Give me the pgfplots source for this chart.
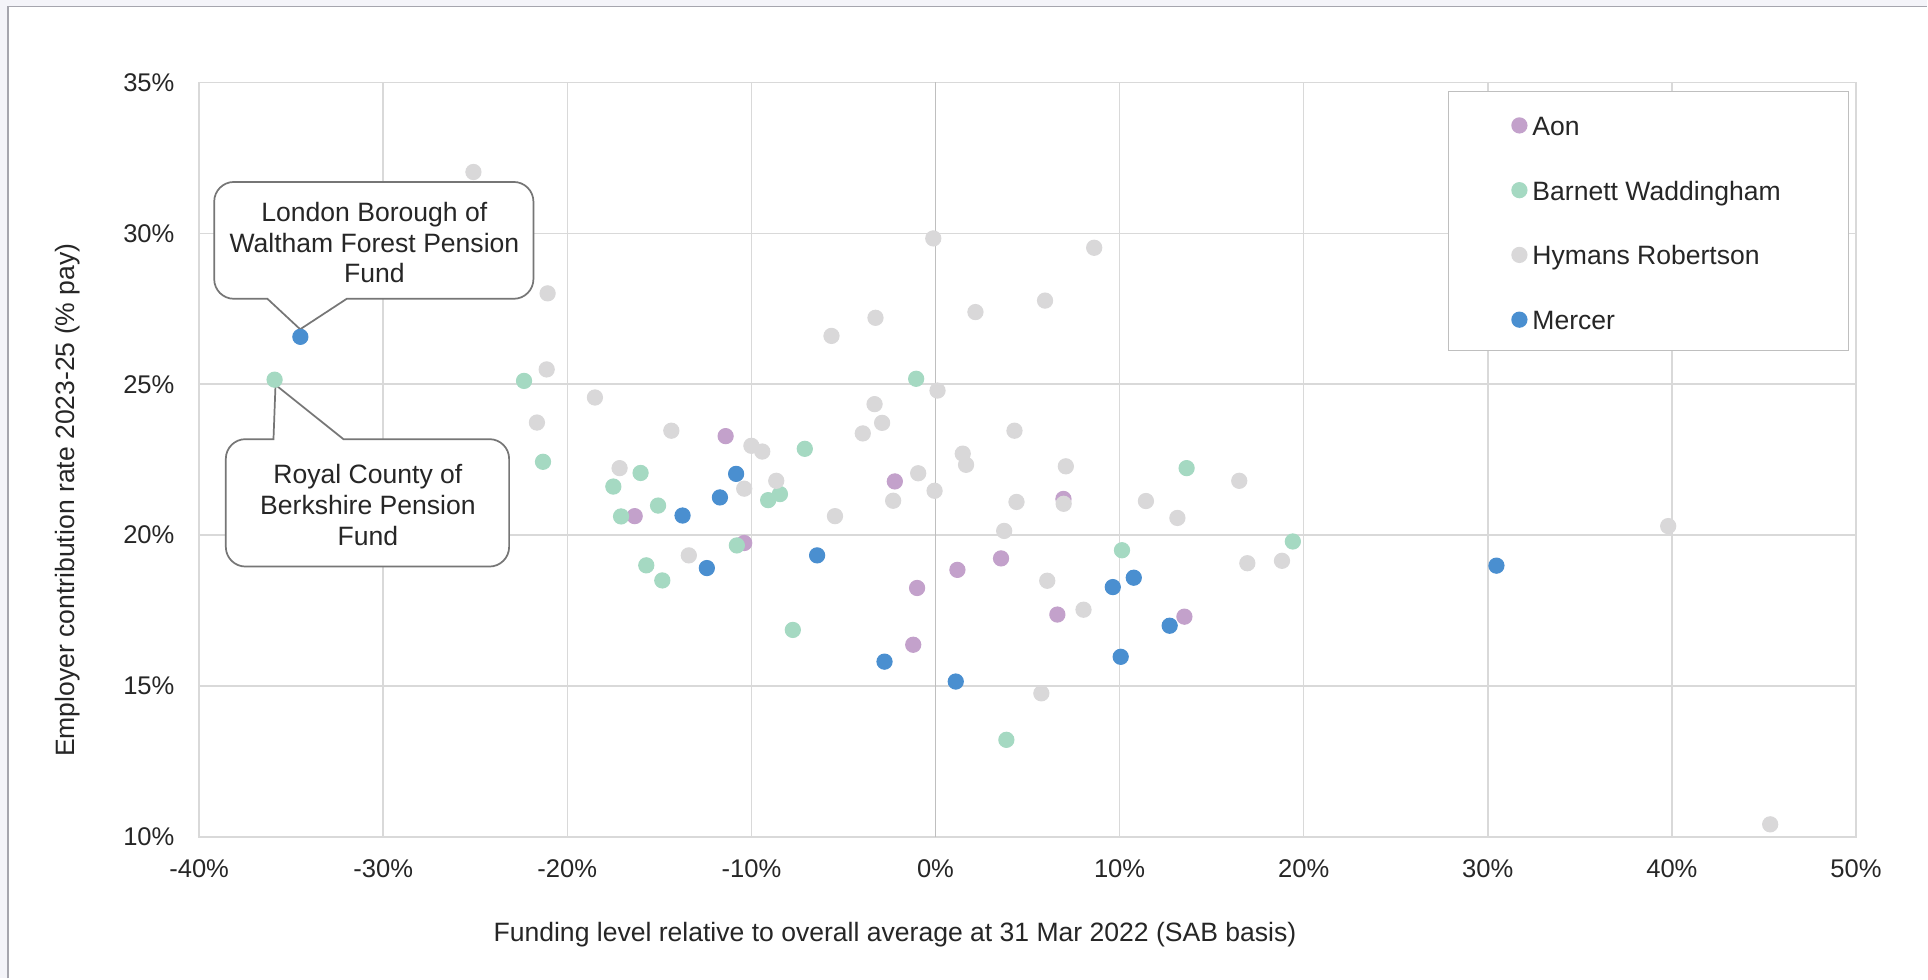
\documentclass[border=0pt]{standalone}
\usepackage{pgfplots}
\pgfplotsset{compat=1.18}
\usepackage{fontspec}
\setmainfont{Liberation Sans}

\definecolor{aon}{HTML}{C3A1CB}
\definecolor{bw}{HTML}{A5D9C2}
\definecolor{hr}{HTML}{D9D8D9}
\definecolor{mercer}{HTML}{4A8FD0}
\definecolor{gridc}{HTML}{D9D9D9}
\definecolor{zeroc}{HTML}{BFBFBF}
\definecolor{txt}{HTML}{262626}
\definecolor{callout}{HTML}{767676}
\definecolor{outerbg}{HTML}{F4F4F9}
\definecolor{framec}{HTML}{A6A6AE}

% scatter dot style, one colour per actuary
\pgfplotsset{dot/.style={only marks, mark=*, mark size=3.1pt,
    mark options={draw=none, fill=#1}, color=#1,
    legend image code/.code={\fill[#1] (0pt,-0.6pt) circle[radius=3pt];}}}
\newcommand{\ls}{\rule[-3pt]{0pt}{13.74pt}}

\begin{document}
\begin{tikzpicture}
% page background and outer frame
\fill[outerbg] (-81pt,-57.5pt) rectangle (703pt,340.5pt);
\fill[white] (-77.95pt,-57.5pt) rectangle (703pt,338.05pt);
\draw[framec, line width=0.6pt] (-77.65pt,-57.5pt) -- (-77.65pt,337.75pt) -- (703pt,337.75pt);

\begin{axis}[
    scale only axis,
    width=674pt, height=307pt,
    xmin=-40, xmax=50, ymin=10, ymax=35,
    xtick={-40,-30,...,50}, ytick={10,15,...,35},
    xticklabels={-40\%,-30\%,-20\%,-10\%,0\%,10\%,20\%,30\%,40\%,50\%},
    yticklabels={10\%,15\%,20\%,25\%,30\%,35\%},
    major tick length=0pt,
    grid=major, grid style={gridc, line width=0.6pt},
    axis line style={gridc, line width=0.6pt},
    extra x ticks={0}, extra x tick labels={},
    extra x tick style={grid style={zeroc, line width=0.6pt}},
    tick label style={font=\fontsize{10.4}{12}\selectfont, text=txt},
    xticklabel style={yshift=-5.8pt},
    yticklabel style={xshift=-6.5pt},
    xlabel={Funding level relative to overall average at 31 Mar 2022 (SAB basis)},
    ylabel={Employer contribution rate 2023-25 (\% pay)},
    label style={font=\fontsize{10.8}{13}\selectfont, text=txt},
    xlabel style={at={(axis description cs:0.420,-0.1287)}, anchor=center},
    ylabel style={at={(axis description cs:-0.0794,0.4464)}, anchor=center},
    legend style={at={(axis description cs:0.7537,0.9886)}, anchor=north west,
        draw=zeroc, line width=0.6pt, fill=white,
        font=\fontsize{10.8}{13}\selectfont, text=txt,
        inner xsep=25.5pt, inner ysep=5pt, row sep=10.1pt},
    legend cell align=left,
]
\addplot[dot=aon] coordinates {
    (-11.40,23.28) (-16.34,20.63) (-10.39,19.74) (-2.21,21.78) (-1.00,18.25)
    (-1.21,16.37) (1.19,18.85) (3.56,19.23) (6.95,21.20) (6.62,17.37) (13.52,17.30)
};
\addlegendentry{Aon\ls}
\addplot[dot=bw] coordinates {
    (-35.90,25.15) (-22.35,25.11) (-21.32,22.43) (-17.50,21.61) (-16.02,22.06)
    (-17.08,20.62) (-15.07,20.98) (-15.71,19.00) (-14.84,18.50) (-10.79,19.66)
    (-9.09,21.16) (-8.45,21.36) (-7.10,22.86) (-7.75,16.86) (-1.05,25.18)
    (3.85,13.22) (10.13,19.50) (13.64,22.22) (19.41,19.79)
};
\addlegendentry{Barnett Waddingham\ls}
\addplot[dot=hr] coordinates {
    (-25.10,32.03) (-21.07,28.01) (-21.12,25.49) (-18.50,24.56) (-21.65,23.73)
    (-17.16,22.22) (-14.35,23.46) (-13.40,19.33) (-10.00,22.96) (-9.41,22.77)
    (-10.39,21.54) (-8.65,21.80) (-5.46,20.63) (-5.65,26.60) (-3.26,27.20)
    (-3.31,24.34) (-2.90,23.72) (-3.95,23.37) (-2.30,21.14) (-0.94,22.05)
    (-0.05,21.47) (-0.12,29.83) (0.11,24.79) (2.17,27.39) (1.48,22.70)
    (1.66,22.33) (4.29,23.46) (5.95,27.77) (8.62,29.52) (4.40,21.10)
    (3.73,20.14) (7.08,22.28) (6.96,21.04) (6.07,18.49) (8.04,17.53)
    (5.75,14.76) (11.43,21.13) (13.14,20.57) (16.50,21.80) (16.94,19.07)
    (18.82,19.15) (39.80,20.30) (45.34,10.42)
};
\addlegendentry{Hymans Robertson\ls}
\addplot[dot=mercer] coordinates {
    (-34.50,26.57) (-13.74,20.65) (-10.83,22.03) (-11.71,21.25) (-12.42,18.91)
    (-6.43,19.33) (-2.77,15.81) (1.10,15.15) (9.63,18.28) (10.77,18.59)
    (12.72,17.00) (10.06,15.97) (30.47,18.99)
};
\addlegendentry{Mercer\ls}

% callout: London Borough of Waltham Forest
\draw[callout, line width=0.7pt, fill=white]
    (axis cs:-34.51,26.82) -- (axis cs:-36.29,27.83)
    -- ([xshift=8pt]axis cs:-39.18,27.83) arc[start angle=270, end angle=180, radius=8pt]
    -- ([yshift=-8pt]axis cs:-39.18,31.70) arc[start angle=180, end angle=90, radius=8pt]
    -- ([xshift=-8pt]axis cs:-21.84,31.70) arc[start angle=90, end angle=0, radius=8pt]
    -- ([yshift=8pt]axis cs:-21.84,27.83) arc[start angle=0, end angle=-90, radius=8pt]
    -- (axis cs:-31.98,27.83) -- cycle;
\node[align=center, font=\fontsize{10.8}{12.5}\selectfont, text=txt]
    at (axis cs:-30.48,29.69) {London Borough of\\Waltham Forest Pension\\Fund};

% callout: Royal County of Berkshire
\draw[callout, line width=0.7pt, fill=white]
    (axis cs:-35.85,24.98) -- (axis cs:-32.16,23.18)
    -- ([xshift=-8pt]axis cs:-23.16,23.18) arc[start angle=90, end angle=0, radius=8pt]
    -- ([yshift=8pt]axis cs:-23.16,18.96) arc[start angle=0, end angle=-90, radius=8pt]
    -- ([xshift=8pt]axis cs:-38.55,18.96) arc[start angle=270, end angle=180, radius=8pt]
    -- ([yshift=-8pt]axis cs:-38.55,23.18) arc[start angle=180, end angle=90, radius=8pt]
    -- (axis cs:-35.96,23.18) -- cycle;
\node[align=center, font=\fontsize{10.8}{12.5}\selectfont, text=txt]
    at (axis cs:-30.83,21.00) {Royal County of\\Berkshire Pension\\Fund};
\end{axis}
\end{tikzpicture}
\end{document}
